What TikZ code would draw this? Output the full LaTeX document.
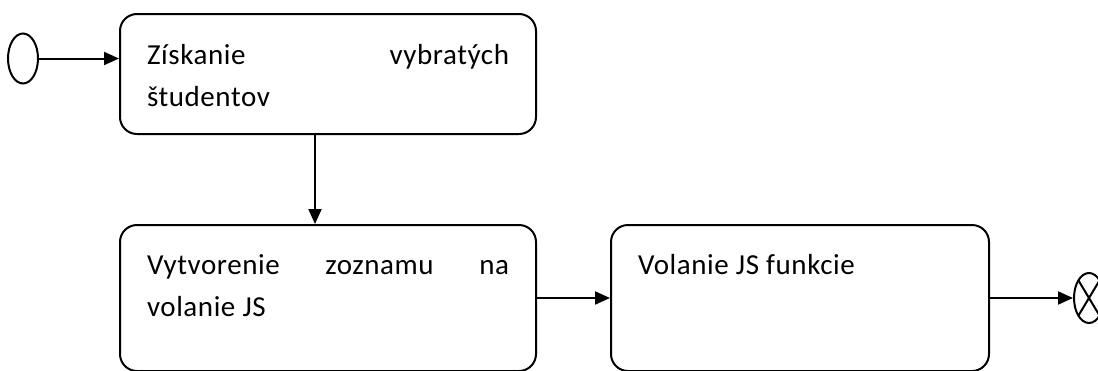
\documentclass[tikz,border=0pt]{standalone}
\usepackage{fontspec}
\setmainfont[LetterSpace=2]{Carlito}
\usepackage{tikz}
\usetikzlibrary{shapes, arrows.meta, positioning}

\tikzset{
    activity/.style={draw, rectangle, rounded corners=17pt, line width=2pt,
        inner xsep=27pt, inner ysep=0pt, align=justify,
        font=\fontsize{29}{42}\selectfont},
    terminal/.style={draw, ellipse, line width=2pt, minimum width=30pt,
        minimum height=50pt, inner sep=0pt},
    flow/.style={-{Triangle[length=15pt, width=13pt]}, line width=2pt}
}

\begin{document}
\begin{tikzpicture}[x=1pt, y=1pt]
    \useasboundingbox (0,0) rectangle (1098,-370);

    % Start node
    \node[terminal] (start) at (23,-58.5) {};

    % Activities
    \node[activity, anchor=north west, text width=362pt, text height=50pt, text depth=70pt] (fetch) at (119,-13) {Získanie vybratých\linebreak študentov};
    \node[activity, below=89pt of fetch, text width=362pt, text height=49pt, text depth=97pt] (list) {Vytvorenie zoznamu na\linebreak volanie JS};
    \node[activity, right=73pt of list, text width=324pt, text height=49pt, text depth=97pt] (call) {Volanie JS funkcie};

    % End node
    \node[terminal, right=83pt of call, path picture={
        \draw[line width=2pt] (path picture bounding box.north west) -- (path picture bounding box.south east)
            (path picture bounding box.south west) -- (path picture bounding box.north east);}] (stop) {};

    % Arrows
    \draw[flow] (start.east) -- (start.east -| fetch.west);
    \draw[flow] ([xshift=-13pt]fetch.south) -- ([xshift=-13pt]list.north);
    \foreach \i/\j in {list/call, call/stop}
        \draw[flow] (\i) -- (\j);

\end{tikzpicture}
\end{document}
